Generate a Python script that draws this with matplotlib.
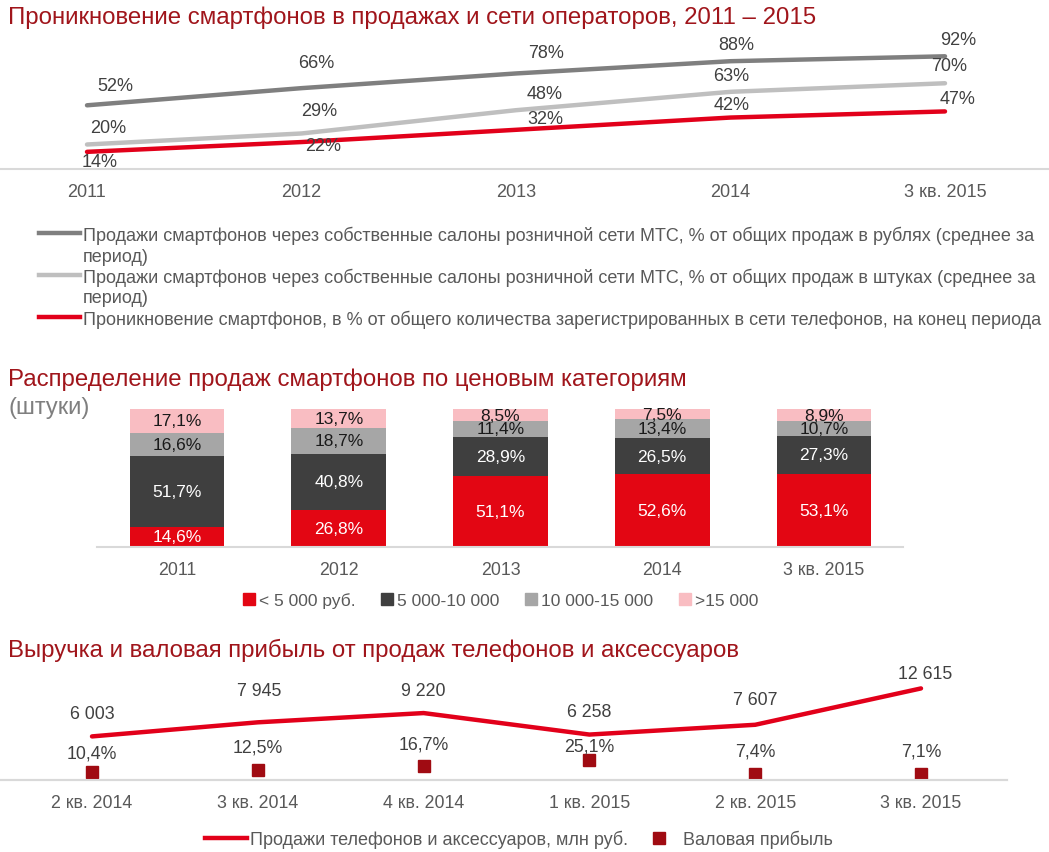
import matplotlib
matplotlib.use('Agg')
import matplotlib.pyplot as plt
from matplotlib.lines import Line2D

plt.rcParams['font.family'] = ['Liberation Sans', 'DejaVu Sans']

# --- данные ---
years = ['2011', '2012', '2013', '2014', '3 кв. 2015']
rub_share = [52, 66, 78, 88, 92]
unit_share = [20, 29, 48, 63, 70]
penetration = [14, 22, 32, 42, 47]

bar_years = ['2011', '2012', '2013', '2014', '3 кв. 2015']
lt5 = [14.6, 26.8, 51.1, 52.6, 53.1]
b5_10 = [51.7, 40.8, 28.9, 26.5, 27.3]
b10_15 = [16.6, 18.7, 11.4, 13.4, 10.7]
gt15 = [17.1, 13.7, 8.5, 7.5, 8.9]

quarters = ['2 кв. 2014', '3 кв. 2014', '4 кв. 2014', '1 кв. 2015', '2 кв. 2015', '3 кв. 2015']
revenue = [6003, 7945, 9220, 6258, 7607, 12615]
margin = [10.4, 12.5, 16.7, 25.1, 7.4, 7.1]

# цвета
TITLE = '#A0151B'
DGRAY = '#7F7F7F'
LGRAY = '#BFBFBF'
RED = '#E2001A'
DRED = '#A00B12'
TXT = '#404040'
AX = '#595959'
BASE = '#D9D9D9'

W, H = 1049, 853
fig = plt.figure(figsize=(W / 100, H / 100), dpi=100)

def fy(p):
    return 1 - p / H

def fx(p):
    return p / W

def pct(v):
    return f'{v:.1f}'.replace('.', ',') + '%'

def thousands(v):
    return f'{v:,}'.replace(',', ' ')

# ================= 1. проникновение =================
fig.text(fx(8), fy(18), 'Проникновение смартфонов в продажах и сети операторов, 2011 – 2015',
         color=TITLE, fontsize=17.25, va='center', ha='left')

ax1 = fig.add_axes([0, fy(170), 1, (170 - 30) / H])
x = list(range(len(years)))
ax1.plot(x, rub_share, color=DGRAY, lw=3.2, solid_capstyle='round')
ax1.plot(x, unit_share, color=LGRAY, lw=3.2, solid_capstyle='round')
ax1.plot(x, penetration, color=RED, lw=3.2, solid_capstyle='round')
ax1.set_xlim(-87 / 214.5, (W - 87) / 214.5)
ax1.set_ylim(0, 140 / 1.225)

# смещения подписей (пиксели)
off_rub = [(28, 20), (15, 26), (30, 21), (6, 17), (13, 17)]
off_unit = [(21, 17), (18, 23), (29, 17), (1, 16), (4, 18)]
off_pen = [(13, -10), (22, -3), (29, 11), (1, 13), (13, 13)]
for series, offs in ((rub_share, off_rub), (unit_share, off_unit), (penetration, off_pen)):
    for i, v in enumerate(series):
        ax1.annotate(f'{v}%', (i, v), xytext=offs[i], textcoords='offset pixels',
                     ha='center', va='center', fontsize=13, color=TXT)

ax1.set_xticks(x)
ax1.set_xticklabels(years)
ax1.tick_params(axis='x', length=0, pad=10, labelsize=13, labelcolor=AX)
ax1.set_yticks([])
for s in ('top', 'right', 'left'):
    ax1.spines[s].set_visible(False)
ax1.spines['bottom'].set_color(BASE)
ax1.spines['bottom'].set_linewidth(1.5)

# легенда вручную
leg1 = [
    (DGRAY, 234, ['Продажи смартфонов через собственные салоны розничной сети МТС, % от общих продаж в рублях (среднее за',
                  'период)']),
    (LGRAY, 276, ['Продажи смартфонов через собственные салоны розничной сети МТС, % от общих продаж в штуках (среднее за',
                  'период)']),
    (RED, 318, ['Проникновение смартфонов, в % от общего количества зарегистрированных в сети телефонов, на конец периода']),
]
for c, yy, lines in leg1:
    fig.add_artist(Line2D([fx(39), fx(80)], [fy(yy), fy(yy)], color=c, lw=3.2,
                          transform=fig.transFigure))
    for k, t in enumerate(lines):
        fig.text(fx(83), fy(yy + 2 + 21 * k), t, color=AX, fontsize=13, va='center', ha='left')

# ================= 2. ценовые категории =================
fig.text(fx(8), fy(380), 'Распределение продаж смартфонов по ценовым категориям',
         color=TITLE, fontsize=17.25, va='center', ha='left')
fig.text(fx(8), fy(408), '(штуки)', color=DGRAY, fontsize=17, va='center', ha='left')

ax2 = fig.add_axes([fx(97), fy(548), (903 - 97) / W, (548 - 410) / H])
xb = list(range(len(bar_years)))
bw = 0.585
segs = [(lt5, '#E30613', 'white', '< 5 000 руб.'),
        (b5_10, '#3F3F3F', 'white', '5 000-10 000'),
        (b10_15, '#A6A6A6', '#1A1A1A', '10 000-15 000'),
        (gt15, '#F9BDC2', '#1A1A1A', '>15 000')]
bottom = [0] * len(xb)
handles = []
for vals, col, tcol, lab in segs:
    ax2.bar(xb, vals, bw, bottom=bottom, color=col, edgecolor='none')
    for i, v in enumerate(vals):
        ax2.text(i, bottom[i] + v / 2, pct(v), ha='center', va='center',
                 fontsize=12.5, color=tcol)
    bottom = [b + v for b, v in zip(bottom, vals)]
    handles.append(Line2D([], [], marker='s', color=col, ls='none', markersize=8, label=lab))

ax2.set_xlim(-(177 - 97) / 161.75, 4 + (903 - 824) / 161.75)
ax2.set_ylim(0, 100)
ax2.set_xticks(xb)
ax2.set_xticklabels(bar_years)
ax2.tick_params(axis='x', length=0, pad=10, labelsize=12.8, labelcolor=AX)
ax2.set_yticks([])
for s in ('top', 'right', 'left'):
    ax2.spines[s].set_visible(False)
ax2.spines['bottom'].set_color(BASE)
ax2.spines['bottom'].set_linewidth(1.5)
fig.legend(handles=handles, loc='center', bbox_to_anchor=(fx(500), fy(601)), ncol=4,
           frameon=False, fontsize=12.5, handlelength=0.8, handletextpad=0.2,
           columnspacing=1.4, labelcolor=AX)

# ================= 3. выручка =================
fig.text(fx(8), fy(650), 'Выручка и валовая прибыль от продаж телефонов и аксессуаров',
         color=TITLE, fontsize=17.25, va='center', ha='left')

ax3 = fig.add_axes([0, fy(781), 1007 / W, (781 - 660) / H])
xq = list(range(len(quarters)))
ax3.plot(xq, revenue, color=RED, lw=3.2, solid_capstyle='round')
ax3.set_xlim(-92 / 165.8, 5 + (1007 - 921) / 165.8)
ax3.set_ylim(0, 121 / 0.00726)
off_rev = [(0, 23), (1, 32), (0, 23), (0, 23), (0, 25), (4, 15)]
for i, v in enumerate(revenue):
    ax3.annotate(thousands(v), (i, v), xytext=off_rev[i], textcoords='offset pixels',
                 ha='center', va='center', fontsize=12.8, color=TXT)

ax3b = ax3.twinx()
ax3b.plot(xq, margin, ls='none', marker='s', markersize=9, color=DRED)
ax3b.set_ylim(0, 121 / 0.81)
off_mar = [19, 23, 22, 14, 23, 23]
for i, v in enumerate(margin):
    ax3b.annotate(pct(v), (i, v), xytext=(0, off_mar[i]), textcoords='offset pixels',
                  ha='center', va='center', fontsize=12.8, color=TXT)

ax3.set_xticks(xq)
ax3.set_xticklabels(quarters)
ax3.tick_params(axis='x', length=0, pad=10, labelsize=12.8, labelcolor=AX)
for a in (ax3, ax3b):
    a.set_yticks([])
    for s in ('top', 'right', 'left'):
        a.spines[s].set_visible(False)
    a.spines['bottom'].set_color(BASE)
    a.spines['bottom'].set_linewidth(1.5)

h3 = [Line2D([], [], color=RED, lw=3.2, label='Продажи телефонов и аксессуаров, млн руб.'),
      Line2D([], [], marker='s', color=DRED, ls='none', markersize=8, label='Валовая прибыль')]
fig.legend(handles=h3, loc='center', bbox_to_anchor=(fx(519), fy(840)), ncol=2,
           frameon=False, fontsize=13, handlelength=2.3, handletextpad=0.15,
           columnspacing=0.6, labelcolor=AX)

fig.savefig('out.png', dpi=100)
